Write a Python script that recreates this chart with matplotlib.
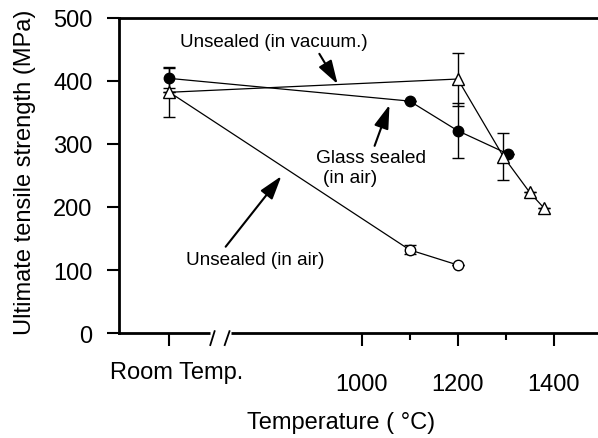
import numpy as np
import matplotlib.pyplot as plt

plt.rcParams['font.family'] = ['Liberation Sans', 'DejaVu Sans']

# position used on the x axis for the room temperature points
rt_pos = 600

# Unsealed, tested in vacuum (open triangles)
vac_x = [rt_pos, 1200, 1295, 1350, 1380]
vac_y = [382, 403, 280, 223, 198]
vac_err = [40, 42, 37, 0, 0]

# Glass sealed, tested in air (filled circles)
glass_x = [rt_pos, 1100, 1200, 1305]
glass_y = [404, 368, 321, 284]
glass_err = [16, 0, 44, 0]

# Unsealed, tested in air (open circles)
air_x = [rt_pos, 1100, 1200]
air_y = [382, 132, 108]
air_err = [0, 7, 0]

fig = plt.figure(figsize=(5.98, 4.39), dpi=100)
ax = fig.add_axes([0.199, 0.239, 0.801, 0.718])

ebkw = dict(ecolor='black', elinewidth=1.0, capsize=4.5, capthick=1.0)

ax.errorbar(air_x, air_y, yerr=air_err, color='black', lw=0.9, marker='o',
            ms=7.5, mfc='white', mec='black', mew=1.0, markevery=[1, 2], **ebkw, zorder=3)
ax.errorbar(glass_x, glass_y, yerr=glass_err, color='black', lw=0.9, marker='o',
            ms=7.5, mfc='black', mec='black', **ebkw, zorder=4)
ax.errorbar(vac_x, vac_y, yerr=vac_err, color='black', lw=0.9, marker='^',
            ms=9, mfc='white', mec='black', mew=1.0, **ebkw, zorder=5)

ax.set_xlim(495, 1492)
ax.set_ylim(0, 500)

ax.set_yticks([0, 100, 200, 300, 400, 500])
ax.set_xticks([rt_pos, 1000, 1200, 1400])
ax.set_xticklabels(['', '1000', '1200', '1400'])
ax.set_xticks([1100, 1300], minor=True)

ax.tick_params(axis='both', which='major', direction='out', length=9, width=1.5,
               labelsize=17)
ax.tick_params(axis='x', which='major', pad=20)
ax.tick_params(axis='x', which='minor', direction='out', length=5, width=1.5)
ax.tick_params(axis='y', pad=10)

for side in ['left', 'bottom', 'top']:
    ax.spines[side].set_linewidth(2)
ax.spines['right'].set_visible(False)

# axis break on the bottom spine
ax.plot([684, 728], [0, 0], color='white', lw=5, clip_on=False, zorder=10,
        solid_capstyle='butt')
ax.plot([685, 694], [-19, 3], color='black', lw=1.3, clip_on=False, zorder=11)
ax.plot([715, 725], [-19, 3], color='black', lw=1.3, clip_on=False, zorder=11)

ax.text(-0.019, -0.124, 'Room Temp.', transform=ax.transAxes, ha='left', va='center',
        fontsize=17)
ax.text(-0.196, 0.514, 'Ultimate tensile strength (MPa)', transform=ax.transAxes,
        rotation=90, ha='center', va='center', fontsize=17)
ax.text(0.463, -0.283, 'Temperature ( °C)', transform=ax.transAxes,
        ha='center', va='center', fontsize=17)

# labels with arrows pointing at each curve
arw = dict(arrowstyle='-|>,head_length=0.8,head_width=0.25', color='black', lw=1.5,
           mutation_scale=18, shrinkA=0, shrinkB=0)
ax.annotate('', xy=(950, 395), xytext=(912, 443), arrowprops=arw)
ax.text(817, 463, 'Unsealed (in vacuum.)', ha='center', va='center', fontsize=13.5)

ax.annotate('', xy=(1058, 362), xytext=(1027, 297), arrowprops=arw)
ax.text(906, 279, 'Glass sealed', ha='left', va='center', fontsize=13.8)
ax.text(919, 246, '(in air)', ha='left', va='center', fontsize=13.8)

ax.annotate('', xy=(833, 249), xytext=(717, 137), arrowprops=arw)
ax.text(779, 117, 'Unsealed (in air)', ha='center', va='center', fontsize=13.6)

fig.savefig('out.png', dpi=100)
